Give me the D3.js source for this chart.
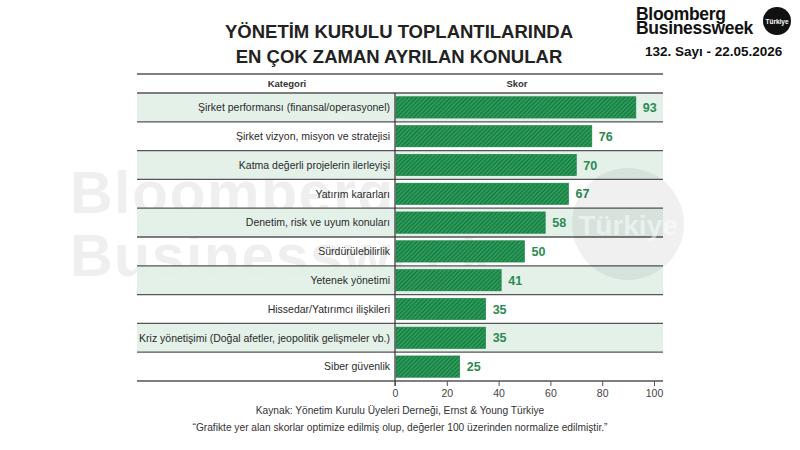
<!DOCTYPE html>
<html>
<head>
<meta charset="utf-8">
<script src="https://cdn.jsdelivr.net/npm/d3@7/dist/d3.min.js"></script>
<style>
  body { margin: 0; background: #fff; }
  svg { display: block; font-family: "Liberation Sans", Arial, sans-serif; }
</style>
</head>
<body>
<svg id="chart" width="800" height="450"></svg>
<script>
// data
var categories = [
    'Şirket performansı (finansal/operasyonel)',
    'Şirket vizyon, misyon ve stratejisi',
    'Katma değerli projelerin ilerleyişi',
    'Yatırım kararları',
    'Denetim, risk ve uyum konuları',
    'Sürdürülebilirlik',
    'Yetenek yönetimi',
    'Hissedar/Yatırımcı ilişkileri',
    'Kriz yönetişimi (Doğal afetler, jeopolitik gelişmeler vb.)',
    'Siber güvenlik'
];
var scores = [93, 76, 70, 67, 58, 50, 41, 35, 35, 25];
var xTicks = [0, 20, 40, 60, 80, 100];
var titleLines = ['YÖNETİM KURULU TOPLANTILARINDA', 'EN ÇOK ZAMAN AYRILAN KONULAR'];
var notes = [
    'Kaynak: Yönetim Kurulu Üyeleri Derneği, Ernst & Young Türkiye',
    '“Grafikte yer alan skorlar optimize edilmiş olup, değerler 100 üzerinden normalize edilmiştir.”'
];

var G = {
    left: 137, right: 663, axisX: 395, headTop: 74, top: 93, bottom: 381,
    green: '#2b9b59', stripe: '#17733d', shade: '#e2f0e7', rule: '#555'
};

var svg = d3.select('#chart');
var rows = categories.map(function(c, i) { return { cat: c, val: scores[i], i: i }; });

var x = d3.scaleLinear().domain([0, 100]).range([G.axisX, 654]);
var y = d3.scaleBand().domain(categories).range([G.top, G.bottom]).paddingInner(0).paddingOuter(0);

// watermark sits under the table
var wm = svg.append('g').attr('pointer-events', 'none');
wm.append('text').attr('x', 70).attr('y', 213).attr('font-size', 59).attr('font-weight', 'bold')
    .attr('fill', '#000').attr('opacity', 0.06).attr('letter-spacing', 1.5).text('Bloomberg');
wm.append('text').attr('x', 70).attr('y', 276).attr('font-size', 59).attr('font-weight', 'bold')
    .attr('fill', '#000').attr('opacity', 0.06).attr('letter-spacing', 1.5).text('Businessweek');

// hatch for bars
var defs = svg.append('defs');
var pat = defs.append('pattern')
    .attr('id', 'hatch')
    .attr('patternUnits', 'userSpaceOnUse')
    .attr('width', 3).attr('height', 3)
    .attr('patternTransform', 'rotate(45)');
pat.append('rect').attr('width', 3).attr('height', 3).attr('fill', G.green);
pat.append('line').attr('x1', 0.5).attr('y1', 0).attr('x2', 0.5).attr('y2', 3)
    .attr('stroke', G.stripe).attr('stroke-width', 1);

// title
svg.append('g').selectAll('text').data(titleLines).enter().append('text')
    .attr('x', 399).attr('y', function(d, i) { return 38 + i * 25; })
    .attr('text-anchor', 'middle')
    .attr('font-size', 18.5).attr('font-weight', 'bold').attr('fill', '#222')
    .text(function(d) { return d; });

// logo
var logo = svg.append('g');
logo.append('text').attr('x', 636).attr('y', 20).attr('font-size', 17.5).attr('font-weight', 'bold')
    .attr('fill', '#111').attr('letter-spacing', -0.3).text('Bloomberg');
logo.append('text').attr('x', 636).attr('y', 34).attr('font-size', 17.5).attr('font-weight', 'bold')
    .attr('fill', '#111').attr('letter-spacing', -0.3).text('Businessweek');
logo.append('circle').attr('cx', 777).attr('cy', 21).attr('r', 14).attr('fill', '#111');
logo.append('text').attr('x', 777).attr('y', 23.5).attr('text-anchor', 'middle')
    .attr('font-size', 6.5).attr('font-weight', 'bold').attr('fill', '#fff').text('Türkiye');
logo.append('text').attr('x', 645).attr('y', 56).attr('font-size', 13.5).attr('font-weight', 'bold')
    .attr('fill', '#111').text('132. Sayı - 22.05.2026');

// header
svg.append('text').attr('x', 287).attr('y', 87).attr('text-anchor', 'middle')
    .attr('font-size', 9.5).attr('font-weight', 'bold').attr('fill', '#333').text('Kategori');
svg.append('text').attr('x', 517).attr('y', 87).attr('text-anchor', 'middle')
    .attr('font-size', 9.5).attr('font-weight', 'bold').attr('fill', '#333').text('Skor');

// row shading
svg.append('g').selectAll('rect').data(rows.filter(function(d) { return d.i % 2 === 0; }))
    .enter().append('rect')
    .attr('x', G.left).attr('width', G.right - G.left)
    .attr('y', function(d) { return y(d.cat); })
    .attr('height', y.bandwidth())
    .attr('fill', G.shade).attr('opacity', 0.93);

// horizontal rules
var ruleYs = [G.headTop].concat(categories.map(function(c) { return y(c); })).concat([G.bottom]);
svg.append('g').selectAll('line').data(ruleYs).enter().append('line')
    .attr('x1', G.left).attr('x2', G.right)
    .attr('y1', function(d) { return d; }).attr('y2', function(d) { return d; })
    .attr('stroke', G.rule).attr('stroke-width', 1.3);

// bars
var bh = y.bandwidth() * 0.74;
svg.append('g').selectAll('rect').data(rows).enter().append('rect')
    .attr('x', x(0) + 1)
    .attr('y', function(d) { return y(d.cat) + (y.bandwidth() - bh) / 2; })
    .attr('width', function(d) { return x(d.val) - x(0) - 1; })
    .attr('height', bh)
    .attr('fill', 'url(#hatch)')
    .attr('stroke', '#1c7f44').attr('stroke-width', 0.6);

// value labels
svg.append('g').selectAll('text').data(rows).enter().append('text')
    .attr('x', function(d) { return x(d.val) + 7; })
    .attr('y', function(d) { return y(d.cat) + y.bandwidth() / 2 + 4.5; })
    .attr('font-size', 12.5).attr('font-weight', 'bold').attr('fill', '#2a8a52')
    .text(function(d) { return d.val; });

// category labels
svg.append('g').selectAll('text').data(rows).enter().append('text')
    .attr('x', G.axisX - 5)
    .attr('y', function(d) { return y(d.cat) + y.bandwidth() / 2 + 3.7; })
    .attr('text-anchor', 'end')
    .attr('font-size', 10.5).attr('fill', '#2a2a2a')
    .text(function(d) { return d.cat; });

// vertical axis line
svg.append('line').attr('x1', G.axisX).attr('x2', G.axisX)
    .attr('y1', G.top).attr('y2', G.bottom + 5)
    .attr('stroke', '#333').attr('stroke-width', 1.2);

// bottom axis
var axis = svg.append('g').attr('transform', 'translate(0,' + G.bottom + ')')
    .call(d3.axisBottom(x).tickValues(xTicks).tickSize(5).tickPadding(4));
axis.select('.domain').remove();
axis.selectAll('.tick line').attr('stroke', '#555');
axis.selectAll('.tick text').attr('font-size', 10.5).attr('fill', '#444')
    .attr('font-family', '"Liberation Sans", Arial, sans-serif');

// footnotes
svg.append('g').selectAll('text').data(notes).enter().append('text')
    .attr('x', 400).attr('y', function(d, i) { return 414 + i * 17; })
    .attr('text-anchor', 'middle')
    .attr('font-size', 10.2).attr('fill', '#333')
    .text(function(d) { return d; });

// Türkiye circle watermark on top
var wm2 = svg.append('g').attr('pointer-events', 'none');
wm2.append('circle').attr('cx', 628).attr('cy', 224).attr('r', 56)
    .attr('fill', '#000').attr('opacity', 0.06);
wm2.append('text').attr('x', 628).attr('y', 235).attr('text-anchor', 'middle')
    .attr('font-size', 28).attr('font-weight', 'bold').attr('fill', '#fff').attr('opacity', 0.5)
    .text('Türkiye');
</script>
</body>
</html>
